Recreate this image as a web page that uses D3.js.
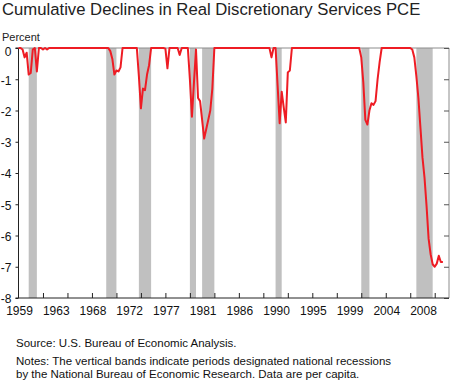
<!DOCTYPE html>
<html>
<head>
<meta charset="utf-8">
<script src="https://cdnjs.cloudflare.com/ajax/libs/d3/7.8.5/d3.min.js"></script>
<style>
  body { margin: 0; background: #fff; }
  svg { font-family: "Liberation Sans", Arial, sans-serif; }
</style>
</head>
<body>
<div id="chart"></div>
<script>
// quarterly, starting 1959Q1 (percent)
var startYear = 1959;
var pce = [
  0, 0, -0.05, -0.3,        // 1959
  -0.15, -0.85, -0.8, -0.05,// 1960
  0, -0.75, 0, 0,           // 1961
  -0.05, 0, -0.05, 0,       // 1962
  0, 0, 0, 0,  0, 0, 0, 0,  0, 0, 0, 0,  0, 0, 0, 0,   // 1963-1966
  0, 0, 0, 0,  0, 0, 0, 0,  0, 0, 0, 0,               // 1967-1969
  0, -0.1, -0.35, -0.85,    // 1970
  -0.72, -0.75, -0.62, 0,   // 1971
  0, 0, 0, 0,               // 1972
  0, 0, 0, -0.9,            // 1973
  -1.93, -1.3, -1.35, -0.85,// 1974
  -0.55, 0, 0, 0,           // 1975
  0, 0, 0, 0,               // 1976
  -0.02, -0.65, 0, 0,       // 1977
  0, 0, 0, -0.22,           // 1978
  0, 0, 0, 0,               // 1979
  -1.0, -2.2, -1.1, -0.05,  // 1980
  -1.6, -1.7, -2.3, -2.9,   // 1981
  -2.6, -2.3, -2.0, -1.3,   // 1982
  0, 0, 0, 0,               // 1983
  0, 0, 0, 0,  0, 0, 0, 0,  0, 0, 0, 0,  0, 0, 0, 0,  0, 0, 0, 0, // 1984-1988
  0, 0, 0, 0,               // 1989
  -0.3, 0, 0, -1.2,         // 1990
  -2.41, -1.4, -1.9, -2.38, // 1991
  -0.78, -0.72, 0, 0,       // 1992
  0, 0, 0, 0,  0, 0, 0, 0,  0, 0, 0, 0,  0, 0, 0, 0,  // 1993-1996
  0, 0, 0, 0,  0, 0, 0, 0,  0, 0, 0, 0,              // 1997-1999
  0, 0, 0, 0,               // 2000
  -0.3, -1.1, -2.3, -2.45,  // 2001
  -2.0, -1.77, -1.82, -1.7, // 2002
  -1.0, -0.45, 0, 0,        // 2003
  0, 0, 0, 0,  0, 0, 0, 0,  0, 0, 0, 0,              // 2004-2006
  0, -0.05, -0.3, -0.9,     // 2007
  -1.6, -2.55, -3.5, -4.15, // 2008
  -5.05, -6.1, -6.6, -6.92, // 2009
  -7.0, -6.9, -6.65, -6.85, // 2010
  -6.85                     // 2011
];

// NBER recessions: peak quarter to one quarter after trough
var recStart = [1960.25, 1969.75, 1973.75, 1980.0, 1981.5, 1990.5, 2001.0, 2007.75];
var recEnd   = [1961.25, 1971.0, 1975.25, 1980.75, 1983.0, 1991.25, 2002.0, 2009.75];

var xLabels = ["1959", "1963", "1968", "1972", "1977", "1981", "1986", "1990", "1995", "1999", "2004", "2008"];
var yTicks = [0, -1, -2, -3, -4, -5, -6, -7, -8];

var data = pce.map(function(v, i) { return {year: startYear + i / 4, value: v}; });

var W = 450, H = 381;
var pLeft = 18.5, pRight = 449, pTop = 48, pBottom = 298;

var svg = d3.select("#chart").append("svg")
    .attr("width", W)
    .attr("height", H);

var x = d3.scaleLinear().domain([1959, 2011.75]).range([pLeft, pRight]);
var y = d3.scaleLinear().domain([-8, 0]).range([pBottom, pTop]);

// title
svg.append("text")
    .attr("x", 2).attr("y", 15)
    .style("font-size", "16.7px")
    .attr("fill", "#222")
    .text("Cumulative Declines in Real Discretionary Services PCE");

svg.append("text")
    .attr("x", 2).attr("y", 41)
    .style("font-size", "11px")
    .attr("fill", "#222")
    .text("Percent");

// recession bands
svg.selectAll(".band")
    .data(recStart)
    .enter().append("rect")
    .attr("class", "band")
    .attr("x", function(d) { return x(d); })
    .attr("width", function(d, i) { return x(recEnd[i]) - x(d); })
    .attr("y", pTop)
    .attr("height", pBottom - pTop)
    .attr("fill", "#c0c0c0");

// frame top / right
svg.append("path")
    .attr("d", "M" + pLeft + "," + pTop + "H" + pRight + "V" + pBottom)
    .attr("fill", "none")
    .attr("stroke", "#8c8c8c")
    .attr("stroke-width", 1);

// right side ticks (inward)
var yRight = d3.axisLeft(y).tickValues(yTicks).tickSize(5).tickFormat("");
svg.append("g")
    .attr("transform", "translate(" + pRight + ",0)")
    .call(yRight)
    .call(function(g) { g.select(".domain").remove(); })
    .selectAll("line").attr("stroke", "#555");

// left axis
var yAxis = d3.axisLeft(y).tickValues(yTicks).tickSize(3).tickPadding(4)
    .tickFormat(function(d) { return String(d); });
var gy = svg.append("g")
    .attr("transform", "translate(" + pLeft + ",0)")
    .call(yAxis);
gy.select(".domain").attr("stroke", "#222").attr("d", "M-3," + pTop + "H0V" + pBottom + "H-3");
gy.selectAll("text")
    .style("font-size", "12px")
    .style("font-family", "'Liberation Sans', Arial, sans-serif")
    .attr("fill", "#111")
    .attr("dy", function(d) { return d === 0 ? "0.65em" : "0.4em"; });
gy.selectAll("line").attr("stroke", "#222");

// bottom axis, inward ticks every 3 years
var xAxis = d3.axisBottom(x).tickValues(d3.range(1962, 2011, 3)).tickSize(-5).tickFormat("");
var gx = svg.append("g")
    .attr("transform", "translate(0," + pBottom + ")")
    .call(xAxis);
gx.select(".domain").attr("stroke", "#222").attr("d", "M" + pLeft + ",0H" + pRight);
gx.selectAll("line").attr("stroke", "#222");

// x labels every 18 quarters
svg.selectAll(".xlab")
    .data(xLabels)
    .enter().append("text")
    .attr("class", "xlab")
    .attr("x", function(d, i) { return x(1959.125 + i * 4.5); })
    .attr("y", 315)
    .attr("text-anchor", "middle")
    .style("font-size", "12px")
    .attr("fill", "#111")
    .text(function(d) { return d; });

// line
var line = d3.line()
    .x(function(d) { return x(d.year); })
    .y(function(d) { return y(d.value); });

svg.append("path")
    .datum(data)
    .attr("d", line)
    .attr("fill", "none")
    .attr("stroke", "#ee1c24")
    .attr("stroke-width", 2)
    .attr("stroke-linejoin", "round");

// notes
var notes = [
  {t: "Source: U.S. Bureau of Economic Analysis.", y: 347},
  {t: "Notes: The vertical bands indicate periods designated national recessions", y: 365},
  {t: "by the National Bureau of Economic Research. Data are per capita.", y: 378}
];
svg.selectAll(".note")
    .data(notes)
    .enter().append("text")
    .attr("class", "note")
    .attr("x", 16)
    .attr("y", function(d) { return d.y; })
    .style("font-size", "11.5px")
    .attr("fill", "#111")
    .text(function(d) { return d.t; });
</script>
</body>
</html>
